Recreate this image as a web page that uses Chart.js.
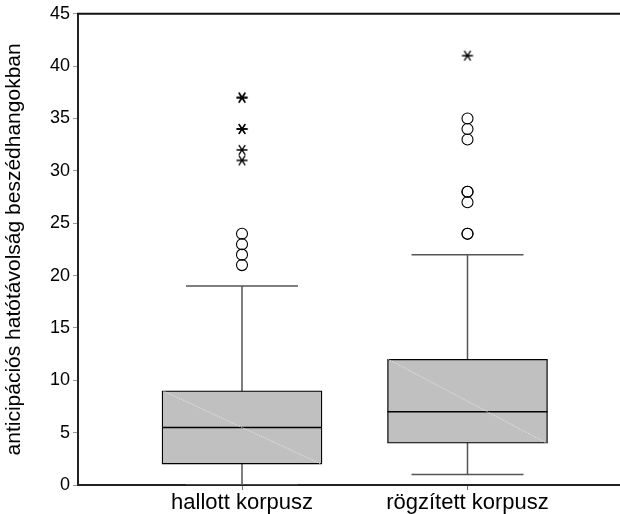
<!DOCTYPE html>
<html><head><meta charset="utf-8">
<script src="https://cdn.jsdelivr.net/npm/chart.js@4.4.0/dist/chart.umd.min.js"></script>
<style>html,body{margin:0;padding:0;background:#fff}#wrap{width:620px;height:514px;position:relative}</style>
</head><body><div id="wrap"><canvas id="c"></canvas></div>
<script>
const categories = ['hallott korpusz', 'rögzített korpusz'];
const whiskerLow = [0, 1];
const q1 = [2, 4];
const median = [5.5, 7];
const q3 = [9, 12];
const whiskerHigh = [19, 22];
const outliers = [[21, 22, 23, 24], [24, 24, 27, 28, 28, 33, 34, 35]];
const extremes = [[31, 32, 34, 34, 37, 37], [41]];
const yTicks = [0, 5, 10, 15, 20, 25, 30, 35, 40, 45];
const yTitle = 'anticipációs hatótávolság beszédhangokban';

function makeStar() {
  const c = document.createElement('canvas');
  c.width = 14; c.height = 14;
  const g = c.getContext('2d');
  g.strokeStyle = '#000'; g.lineWidth = 1.3;
  g.beginPath();
  g.moveTo(1.5, 7); g.lineTo(12.5, 7);
  g.moveTo(3.8, 2.2); g.lineTo(10.2, 11.8);
  g.moveTo(10.2, 2.2); g.lineTo(3.8, 11.8);
  g.stroke();
  return c;
}
const star = makeStar();

const BOX_PX = 160, BOX_HALF = 0.3548, CAP_HALF = 0.2483;
const xs = categories.map((_, i) => i + 1);
const datasets = [];
datasets.push({
  type: 'bar',
  data: xs.map((x, i) => ({ x: x, y: [q1[i], q3[i]] })),
  backgroundColor: '#c0c0c0', borderColor: '#000', borderWidth: 1.3,
  borderSkipped: false, barThickness: BOX_PX, order: 2
});
function seg(pts, color, width, order, dash) {
  datasets.push({
    type: 'line', data: pts, borderColor: color, borderWidth: width,
    borderDash: dash || [], pointRadius: 0, pointHoverRadius: 0, fill: false,
    tension: 0, order: order
  });
}
xs.forEach((x, i) => {
  seg([{ x: x, y: whiskerLow[i] }, { x: x, y: whiskerHigh[i] }], '#555', 1.5, 3);
  seg([{ x: x - CAP_HALF, y: whiskerHigh[i] }, { x: x + CAP_HALF, y: whiskerHigh[i] }], '#555', 1.5, 3);
  seg([{ x: x - CAP_HALF, y: whiskerLow[i] }, { x: x + CAP_HALF, y: whiskerLow[i] }], '#555', 1.5, 3);
  seg([{ x: x - BOX_HALF + 0.004, y: q3[i] }, { x: x + BOX_HALF - 0.004, y: q1[i] }], '#e6e6e6', 1, 1, [1, 1]);
  seg([{ x: x - BOX_HALF, y: median[i] }, { x: x + BOX_HALF, y: median[i] }], '#000', 1.5, 1);
  datasets.push({
    type: 'scatter', data: outliers[i].map(v => ({ x: x, y: v })),
    pointStyle: 'circle', pointRadius: 5.5, borderColor: '#000', borderWidth: 1.1,
    backgroundColor: 'rgba(0,0,0,0)', pointHoverRadius: 5.5, order: 0
  });
  datasets.push({
    type: 'scatter', data: extremes[i].map(v => ({ x: x, y: v })),
    pointStyle: star, pointRadius: 6, order: 0
  });
});

const topLine = {
  id: 'topLine',
  afterDraw(chart) {
    const { ctx, chartArea } = chart;
    ctx.save();
    ctx.strokeStyle = '#111'; ctx.lineWidth = 2;
    ctx.beginPath();
    ctx.moveTo(chartArea.left - 1, chartArea.top);
    ctx.lineTo(chartArea.right, chartArea.top);
    ctx.stroke();
    ctx.restore();
  }
};

new Chart(document.getElementById('c'), {
  type: 'bar',
  data: { datasets: datasets },
  plugins: [topLine],
  options: {
    responsive: true, maintainAspectRatio: false, animation: false,
    layout: { autoPadding: false, padding: { top: 13, right: 0, bottom: 0, left: 0 } },
    plugins: { legend: { display: false }, tooltip: { enabled: false } },
    scales: {
      x: {
        type: 'linear', min: 0.2727, max: 2.6763, offset: false,
        afterBuildTicks: s => { s.ticks = xs.map(v => ({ value: v })); },
        afterFit: s => { s.height = 29; s.paddingLeft = 0; s.paddingRight = 0; },
        ticks: {
          autoSkip: false, maxRotation: 0, padding: 0, color: '#000',
          font: { family: 'Liberation Sans, Arial, sans-serif', size: 22 },
          callback: v => categories[v - 1]
        },
        grid: { offset: false, drawOnChartArea: false, drawTicks: true, tickLength: 5, color: '#777', lineWidth: 1 },
        border: { display: true, color: '#222', width: 2 }
      },
      y: {
        type: 'linear', min: 0, max: 45,
        afterBuildTicks: s => { s.ticks = yTicks.map(v => ({ value: v })); },
        afterFit: s => { s.width = 78; },
        ticks: {
          padding: 3, color: '#000',
          font: { family: 'Liberation Sans, Arial, sans-serif', size: 18 }
        },
        grid: { drawOnChartArea: false, drawTicks: true, tickLength: 5, color: '#999', lineWidth: 1 },
        border: { display: true, color: '#222', width: 2 },
        title: {
          display: true, text: yTitle, color: '#000', padding: { top: 2, bottom: 2 },
          font: { family: 'Liberation Sans, Arial, sans-serif', size: 21 }
        }
      }
    }
  }
});
</script>
</body></html>
